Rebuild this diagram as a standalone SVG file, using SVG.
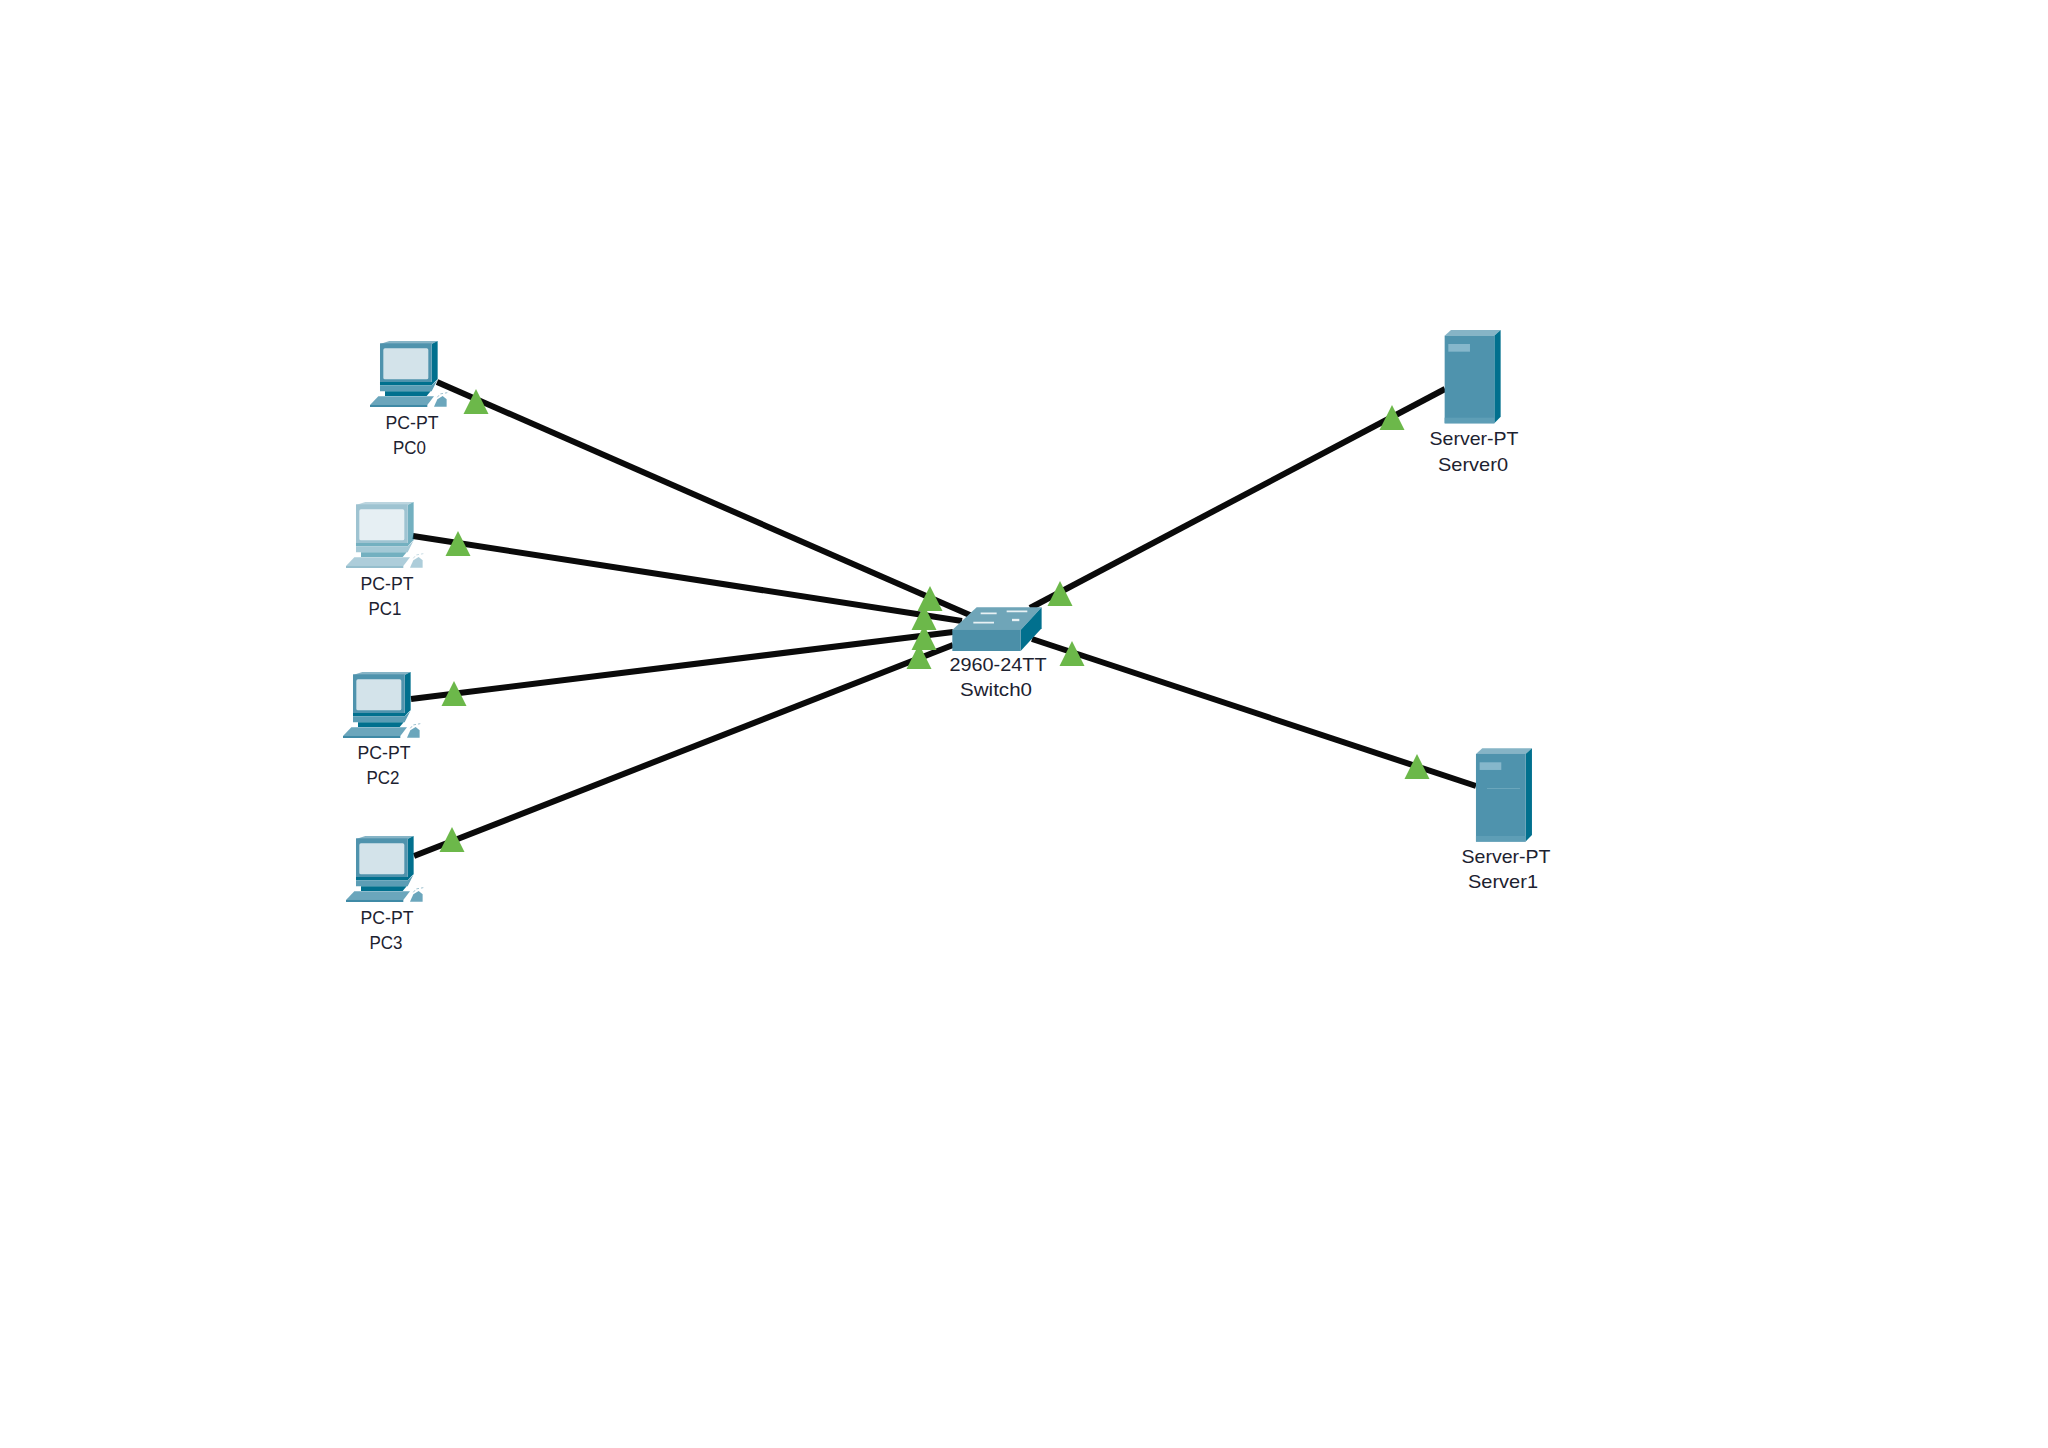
<svg xmlns="http://www.w3.org/2000/svg" xmlns:xlink="http://www.w3.org/1999/xlink" width="2048" height="1448" viewBox="0 0 2048 1448">
<style>
.lnk{stroke:#0a0a0a;stroke-width:6;fill:none;stroke-linecap:butt}
.t{font-family:"Liberation Sans",Arial,sans-serif;font-size:19px;fill:#1d2230;text-anchor:middle}
.tri{fill:#6cb84a}
.f{fill:#4f93ad}.tp{fill:#86b4c6}.sd{fill:#01708e}.dk{fill:#2a7f9c}
</style>
<defs>
<polygon id="tr" class="tri" points="0,0 12.500,25 -12.500,25"/>
<g id="pc" transform="translate(330 320) scale(.3333)">
<polygon class="tp" points="150,72 178,63 323,63 305,72"/>
<polygon class="sd" points="305,72 323,63 323,178 305,190"/>
<rect class="f" x="150" y="70" width="155" height="120"/>
<rect x="160" y="85" width="135" height="93" rx="5" fill="#d3e3ea"/>
<polygon class="sd" points="150,186 305,186 323,176 305,196 150,196"/>
<polygon points="150,196 305,196 322,180 305,214 150,214" fill="#5b9db5"/>
<polygon class="sd" points="165,214 302,214 290,228 165,228"/>
<polygon points="120,255 145,229 312,229 292,255" fill="#6ba6bc"/>
<rect x="120" y="255" width="172" height="6" fill="#3f8aa6"/>
<path d="M322,232 L330,222 L352,218" fill="none" stroke="#9fc2cf" stroke-width="3" stroke-dasharray="8 6"/>
<polygon points="312,260 322,238 338,228 350,238 350,260" fill="#6ba6bc"/>
</g>
<g id="srv">
<polygon class="tp" points="224,47 243,30 392,30 373,47"/>
<polygon class="sd" points="373,47 392,30 392,290 373,310"/>
<rect class="f" x="224" y="47" width="149" height="263"/>
<rect x="235" y="72" width="65" height="23" fill="#86b7cb"/>
<rect x="224" y="293" width="149" height="17" fill="#5e9eb6"/>
</g>
</defs>
<rect width="2048" height="1448" fill="#fff"/>
<g id="connectors">
<line class="lnk" x1="437" y1="382" x2="972" y2="616"/>
<line class="lnk" x1="413" y1="536" x2="962" y2="621"/>
<line class="lnk" x1="411" y1="699" x2="953" y2="632"/>
<line class="lnk" x1="414" y1="856" x2="953" y2="645"/>
<line class="lnk" x1="1445" y1="389" x2="1030" y2="608"/>
<line class="lnk" x1="1476" y1="786" x2="1032" y2="639"/>
</g>
<g id="link-lights">
<use xlink:href="#tr" x="476" y="389"/>
<use xlink:href="#tr" x="458" y="531"/>
<use xlink:href="#tr" x="454" y="681"/>
<use xlink:href="#tr" x="452" y="827"/>
<use xlink:href="#tr" x="930" y="586"/>
<use xlink:href="#tr" x="924" y="605"/>
<use xlink:href="#tr" x="924" y="625"/>
<use xlink:href="#tr" x="919" y="644"/>
<use xlink:href="#tr" x="1060" y="581"/>
<use xlink:href="#tr" x="1072" y="641"/>
<use xlink:href="#tr" x="1392" y="405"/>
<use xlink:href="#tr" x="1417" y="754"/>
</g>
<g id="PC0"><use xlink:href="#pc"/>
<text class="t" x="412" y="429" textLength="53" lengthAdjust="spacingAndGlyphs">PC-PT</text><text class="t" x="409.500" y="454" textLength="33" lengthAdjust="spacingAndGlyphs">PC0</text></g>
<g id="PC1"><g opacity=".55"><use xlink:href="#pc" x="-24" y="161"/></g>
<text class="t" x="387" y="590" textLength="53" lengthAdjust="spacingAndGlyphs">PC-PT</text><text class="t" x="385" y="615" textLength="33" lengthAdjust="spacingAndGlyphs">PC1</text></g>
<g id="PC2"><use xlink:href="#pc" x="-27" y="331"/>
<text class="t" x="384" y="759" textLength="53" lengthAdjust="spacingAndGlyphs">PC-PT</text><text class="t" x="383" y="784" textLength="33" lengthAdjust="spacingAndGlyphs">PC2</text></g>
<g id="PC3"><use xlink:href="#pc" x="-24" y="495"/>
<text class="t" x="387" y="924" textLength="53" lengthAdjust="spacingAndGlyphs">PC-PT</text><text class="t" x="386" y="949" textLength="33" lengthAdjust="spacingAndGlyphs">PC3</text></g>
<g id="Switch0">
<g transform="translate(890 570) scale(.3333)">
<polygon points="187,180 260,112 455,112 392,180" fill="#6fa5b8"/>
<polygon class="sd" points="392,180 455,112 455,175 392,243"/>
<rect x="187" y="180" width="205" height="63" fill="#4b8fa8"/>
<path d="M272,130h48M350,124h62M250,158h62" stroke="#e8f1f4" stroke-width="5" fill="none"/>
<path d="M366,150h22" stroke="#e8f1f4" stroke-width="7" fill="none"/>
</g>
<text class="t" x="998" y="671" textLength="97" lengthAdjust="spacingAndGlyphs">2960-24TT</text><text class="t" x="996" y="696" textLength="72" lengthAdjust="spacingAndGlyphs">Switch0</text></g>
<g id="Server0"><use xlink:href="#srv" transform="translate(1370 320) scale(.3333)"/>
<text class="t" x="1474" y="445" textLength="89" lengthAdjust="spacingAndGlyphs">Server-PT</text><text class="t" x="1473" y="471" textLength="70" lengthAdjust="spacingAndGlyphs">Server0</text></g>
<g id="Server1"><use xlink:href="#srv" transform="translate(1401.300 738.300) scale(.3333)"/>
<path d="M1487 788.500H1520" stroke="#6ba6bc" stroke-width="1"/>
<text class="t" x="1506" y="863" textLength="89" lengthAdjust="spacingAndGlyphs">Server-PT</text><text class="t" x="1503" y="888" textLength="70" lengthAdjust="spacingAndGlyphs">Server1</text></g>
</svg>
